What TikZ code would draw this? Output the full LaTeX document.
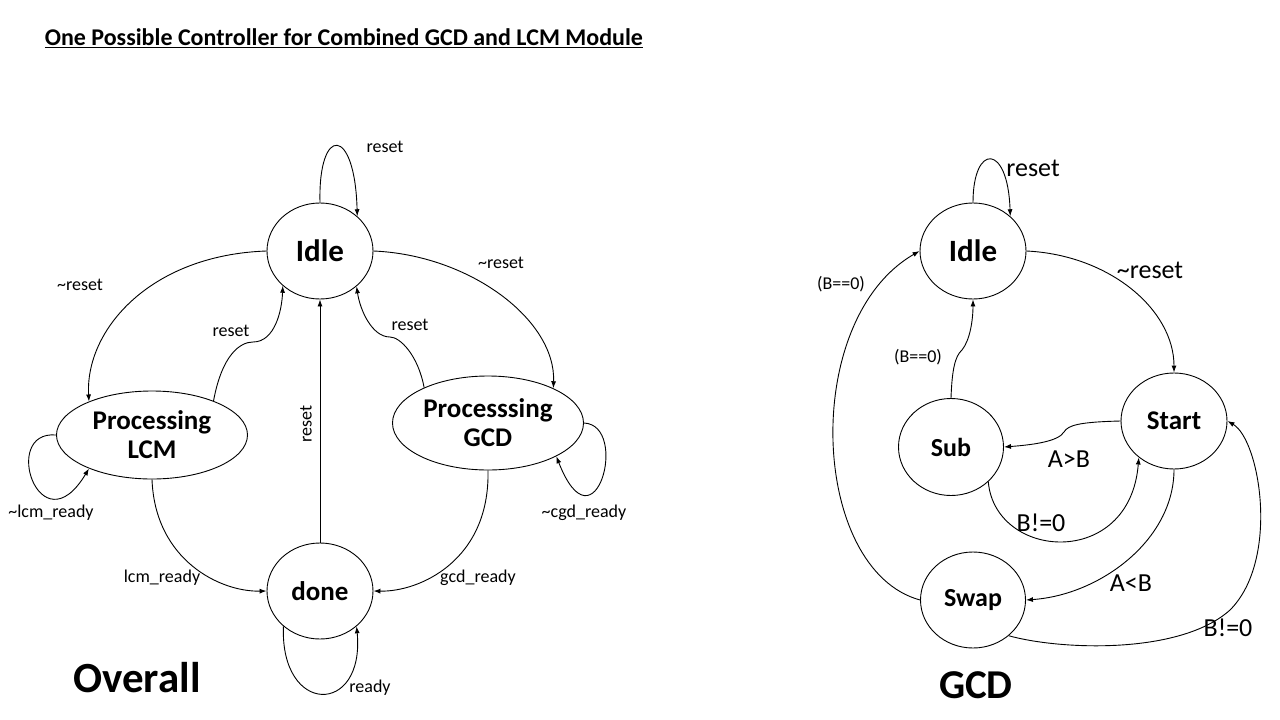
\documentclass[tikz,border=0pt]{standalone}
\usepackage{fontspec}
\setmainfont{Carlito}
\usetikzlibrary{shapes.geometric,arrows.meta}
\tikzset{
  >={Latex[length=7pt,width=5pt]},
  stnode/.style={draw,ellipse,inner sep=0pt,font=\bfseries\fontsize{#1}{#1}\selectfont},
  lbl/.style={inner sep=0pt,font=\fontsize{18}{20}\selectfont},
  lblbig/.style={inner sep=0pt,font=\fontsize{26}{28}\selectfont},
}
\begin{document}
\begin{tikzpicture}[x=1pt,y=-1pt,line width=0.9pt]
    \useasboundingbox (0,0) rectangle (1280,720);
    %% Title
    \node[font=\bfseries\fontsize{24}{26}\selectfont,anchor=west]
        (title) at (41,38) {\underline{One Possible Controller for Combined GCD and LCM Module}};
    %% Overall: states
    \node[stnode=31,minimum width=106pt,minimum height=96pt] (idleL) at (320,251) {Idle};
    \node[stnode=27,minimum width=191pt,minimum height=88pt,align=center]
        (lcm) at (152,435) {Processing\\[2pt]LCM};
    \node[stnode=27,minimum width=191pt,minimum height=94pt,align=center]
        (gcd) at (488,423) {Processsing\\[2pt]GCD};
    \node[stnode=27,minimum width=106pt,minimum height=96pt] (done) at (320,591) {done};
    \node[font=\bfseries\fontsize{43}{45}\selectfont] (overall) at (137,678) {Overall};
    %% Overall: transitions
    \draw[->] (idleL.north) .. controls (318,125) and (355,125) .. (idleL.43);
    \draw[->] (idleL.west) .. controls (150,255) and (85,330) .. (lcm.152);
    \draw[->] (lcm.29) .. controls (222,355) and (240,342) .. (253,342)
        .. controls (275,342) and (282,310) .. (idleL.223);
    \draw[->] (done.north) -- (idleL.south);
    \draw[->] (gcd.151) .. controls (418,355) and (400,337) .. (390,337)
        .. controls (372,337) and (360,310) .. (idleL.316);
    \draw[->] (idleL.east) .. controls (470,255) and (556,320) .. (gcd.28);
    \draw[->] (lcm.west) .. controls (0,430) and (40,550) .. (lcm.208);
    \draw[->] (gcd.east) .. controls (630,425) and (595,555) .. (gcd.334);
    \draw[->] (lcm.south) .. controls (155,560) and (220,592) .. (done.west);
    \draw[->] (gcd.south) .. controls (490,560) and (420,592) .. (done.east);
    \draw[->] (done.224) .. controls (280,716) and (365,716) .. (done.316);
    %% Overall: labels
    \node[lbl] (lIdleLoop) at (385,147) {reset};
    \node[lbl] (lToLcm) at (80,285) {\char`\~reset};
    \node[lbl] (lLcmBack) at (231,331) {reset};
    \node[lbl,rotate=90] (lDoneBack) at (306,424) {reset};
    \node[lbl] (lGcdBack) at (410,325) {reset};
    \node[lbl] (lToGcd) at (501,263) {\char`\~reset};
    \node[lbl] (lLcmLoop) at (51,513) {\char`\~lcm\_ready};
    \node[lbl] (lGcdLoop) at (584,513) {\char`\~cgd\_ready};
    \node[lbl] (lLcmDone) at (162,578) {lcm\_ready};
    \node[lbl] (lGcdDone) at (478,578) {gcd\_ready};
    \node[lbl] (lDoneLoop) at (370,688) {ready};
    %% GCD: states
    \node[stnode=31,minimum width=106pt,minimum height=96pt] (idleR) at (973,251) {Idle};
    \node[stnode=27,minimum width=106pt,minimum height=96pt] (start) at (1174,421) {Start};
    \node[stnode=26,minimum width=105pt,minimum height=97pt] (sub) at (951,447) {Sub};
    \node[stnode=26,minimum width=105pt,minimum height=96pt] (swap) at (973,600) {Swap};
    \node[font=\bfseries\fontsize{41}{43}\selectfont] (gcdTitle) at (976,685) {GCD};
    %% GCD: transitions
    \draw[->] (idleR.north) .. controls (973,143) and (1008,143) .. (idleR.43);
    \draw[->] (idleR.east) .. controls (1110,255) and (1174,310) .. (start.north);
    \draw[->] (sub.north) .. controls (952,370) and (955,356) .. (962,350)
        .. controls (970,340) and (973,320) .. (idleR.south);
    \draw[->] (start.west) .. controls (1080,422) and (1068,425) .. (1064,432)
        .. controls (1058,442) and (1030,445) .. (sub.east);
    \draw[->] (sub.317) .. controls (995,560) and (1130,570) .. (start.226);
    \draw[->] (start.south) .. controls (1174,540) and (1100,595) .. (swap.east);
    \draw[->] (swap.west) .. controls (810,570) and (800,320) .. (idleR.west);
    \draw[->] (swap.315) .. controls (1060,650) and (1180,655) .. (1230,610)
        .. controls (1280,560) and (1260,440) .. (start.east);
    %% GCD: labels
    \node[lblbig] (rIdleLoop) at (1033,168) {reset};
    \node[lblbig] (rToStart) at (1150,270) {\char`\~reset};
    \node[lbl] (rSubIdle) at (918,357) {(B==0)};
    \node[lbl] (rSwapIdle) at (841,284) {(B==0)};
    \node[lblbig] (rToSub) at (1069,459) {A>B};
    \node[lblbig] (rSubStart) at (1041,523) {B!=0};
    \node[lblbig] (rToSwap) at (1131,583) {A<B};
    \node[lblbig] (rSwapStart) at (1228,628) {B!=0};
\end{tikzpicture}
\end{document}
